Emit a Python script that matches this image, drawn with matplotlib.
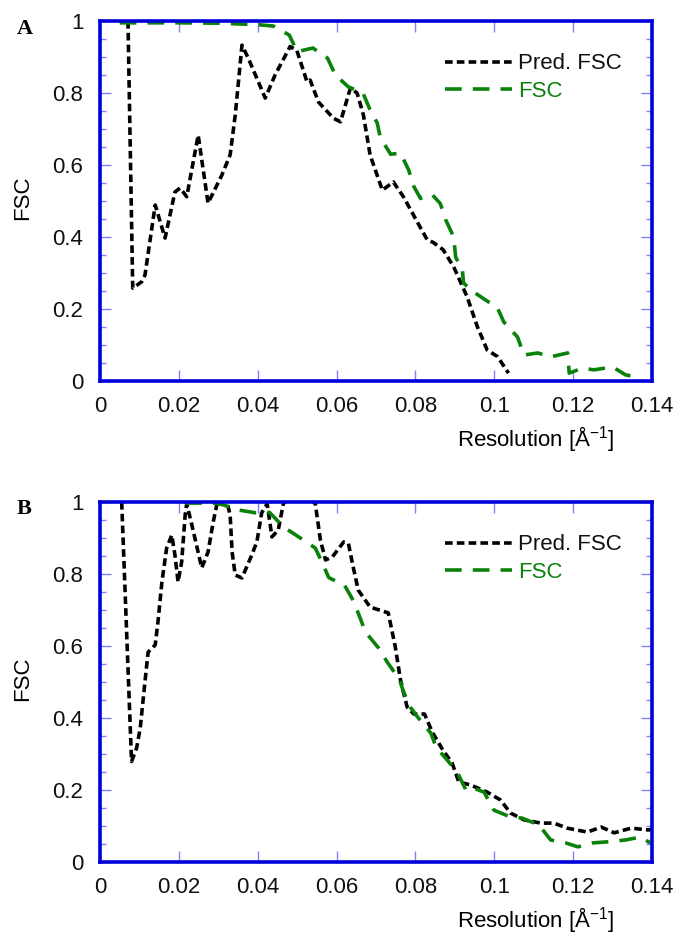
import matplotlib
matplotlib.use("Agg")
import matplotlib.pyplot as plt
from matplotlib.ticker import MultipleLocator, FuncFormatter

plt.rcParams['font.family'] = ['Liberation Sans', 'DejaVu Sans']
plt.rcParams['lines.scale_dashes'] = False

# Panel A: predicted FSC (black) and FSC (green)
a_pred_x = [0.0071, 0.0083, 0.0106, 0.0114, 0.0140, 0.0165, 0.0190, 0.0203, 0.0220, 0.0249,
            0.0274, 0.0309, 0.0330, 0.0343, 0.0360, 0.0376, 0.0419, 0.0444, 0.0482, 0.0499,
            0.0525, 0.0533, 0.0554, 0.0592, 0.0610, 0.0635, 0.0652, 0.0668, 0.0685, 0.0716,
            0.0744, 0.0770, 0.0804, 0.0830, 0.0845, 0.0870, 0.0897, 0.0931, 0.0957, 0.0982,
            0.1008, 0.1036]
a_pred_y = [1.0, 0.258, 0.276, 0.294, 0.489, 0.397, 0.525, 0.536, 0.512, 0.683,
            0.494, 0.572, 0.628, 0.739, 0.933, 0.897, 0.786, 0.850, 0.929, 0.919,
            0.831, 0.836, 0.775, 0.730, 0.720, 0.814, 0.800, 0.739, 0.628, 0.530,
            0.553, 0.511, 0.443, 0.392, 0.385, 0.365, 0.317, 0.234, 0.151, 0.086,
            0.068, 0.022]

a_fsc_x = [0.005, 0.010, 0.020, 0.030, 0.040, 0.044, 0.048, 0.050, 0.054, 0.0577,
           0.0597, 0.063, 0.0667, 0.0685, 0.0703, 0.0711, 0.0737, 0.0762, 0.0783, 0.0794,
           0.0813, 0.0843, 0.0863, 0.0877, 0.0897, 0.0902, 0.0919, 0.0922, 0.0948, 0.0978,
           0.1008, 0.1024, 0.1059, 0.1075, 0.1110, 0.1143, 0.1186, 0.1190, 0.1224, 0.1252,
           0.1300, 0.1333, 0.1363, 0.1370]
a_fsc_y = [0.995, 0.995, 0.995, 0.994, 0.990, 0.986, 0.961, 0.915, 0.925, 0.897,
           0.850, 0.817, 0.800, 0.753, 0.717, 0.676, 0.630, 0.633, 0.586, 0.544,
           0.507, 0.517, 0.493, 0.447, 0.400, 0.344, 0.308, 0.272, 0.247, 0.225,
           0.203, 0.164, 0.122, 0.072, 0.078, 0.067, 0.078, 0.022, 0.036, 0.031,
           0.039, 0.017, 0.011, 0.010]

# Panel B
b_pred_x = [0.0055, 0.0080, 0.0093, 0.0102, 0.0114, 0.0122, 0.0140, 0.0147, 0.0157, 0.0169,
            0.0182, 0.0190, 0.0198, 0.0207, 0.0216, 0.0220, 0.0233, 0.0258, 0.0274, 0.0287,
            0.0297, 0.0315, 0.0330, 0.0335, 0.0343, 0.0360, 0.0385, 0.0398, 0.0410, 0.0424,
            0.0436, 0.0452, 0.0465, 0.0500, 0.0546, 0.0559, 0.0572, 0.0589, 0.0618, 0.0630,
            0.0641, 0.0655, 0.0685, 0.0731, 0.0749, 0.0762, 0.0779, 0.0796, 0.0823, 0.0843,
            0.0870, 0.0893, 0.0910, 0.0940, 0.0982, 0.1016, 0.1041, 0.1075, 0.1118, 0.1151,
            0.1185, 0.1236, 0.1271, 0.1304, 0.1347, 0.1390, 0.1400]
b_pred_y = [1.0, 0.279, 0.317, 0.372, 0.500, 0.583, 0.603, 0.667, 0.778, 0.872,
            0.908, 0.853, 0.778, 0.833, 0.964, 0.995, 0.936, 0.817, 0.861, 0.944,
            0.997, 1.030, 0.964, 0.861, 0.797, 0.789, 0.853, 0.890, 0.970, 0.995,
            0.903, 0.922, 0.995, 1.050, 0.995, 0.894, 0.839, 0.847, 0.889, 0.885,
            0.825, 0.755, 0.708, 0.692, 0.597, 0.506, 0.430, 0.411, 0.411, 0.360,
            0.310, 0.275, 0.222, 0.214, 0.194, 0.172, 0.136, 0.117, 0.108, 0.108,
            0.094, 0.083, 0.097, 0.081, 0.094, 0.089, 0.090]

b_fsc_x = [0.0216, 0.0290, 0.0313, 0.0350, 0.0394, 0.0430, 0.0465, 0.0508, 0.0546, 0.0565,
           0.0580, 0.0620, 0.0643, 0.0660, 0.0673, 0.0706, 0.0728, 0.0759, 0.0769, 0.0787,
           0.0806, 0.0839, 0.0853, 0.0883, 0.0907, 0.0928, 0.0945, 0.0974, 0.0999, 0.1041,
           0.1070, 0.1113, 0.1143, 0.1181, 0.1212, 0.1250, 0.1288, 0.1332, 0.1370, 0.1396]
b_fsc_y = [0.997, 0.997, 0.992, 0.978, 0.970, 0.971, 0.931, 0.900, 0.872, 0.828,
           0.790, 0.769, 0.725, 0.677, 0.639, 0.595, 0.556, 0.508, 0.475, 0.430,
           0.402, 0.358, 0.318, 0.280, 0.247, 0.200, 0.206, 0.194, 0.144, 0.125,
           0.122, 0.103, 0.061, 0.053, 0.042, 0.053, 0.056, 0.061, 0.069, 0.053]

panels = [("A", a_pred_x, a_pred_y, a_fsc_x, a_fsc_y),
          ("B", b_pred_x, b_pred_y, b_fsc_x, b_fsc_y)]

spine_blue = '#0000d8'
tick_blue = '#8080ff'
green = '#0a820a'
fs = 16

fig = plt.figure(figsize=(6.78, 9.35), dpi=100)
ax_boxes = [[0.1475, 0.5925, 0.8142, 0.385],
            [0.1475, 0.0781, 0.8142, 0.385]]

for box, (tag, px, py, fx, fy) in zip(ax_boxes, panels):
    ax = fig.add_axes(box)
    ax.plot(px, py, color='black', lw=2.6, dashes=(5.5, 3.0),
            dash_capstyle='butt', label='Pred. FSC')
    ax.plot(fx, fy, color=green, lw=2.6, dashes=(12, 8),
            dash_capstyle='butt', label='FSC')

    ax.set_xlim(0, 0.14)
    ax.set_ylim(0, 1)
    ax.xaxis.set_major_locator(MultipleLocator(0.02))
    ax.yaxis.set_major_locator(MultipleLocator(0.2))
    ax.yaxis.set_minor_locator(MultipleLocator(0.05))
    ax.xaxis.set_major_formatter(FuncFormatter(lambda v, p: '%g' % round(v, 4)))
    ax.yaxis.set_major_formatter(FuncFormatter(lambda v, p: '%g' % round(v, 4)))

    for s in ax.spines.values():
        s.set_color(spine_blue)
        s.set_linewidth(2.6)
        s.set_zorder(5)
    ax.tick_params(which='both', direction='in', top=True, right=True,
                   color=tick_blue, labelsize=fs, labelcolor='#111111')
    ax.tick_params(which='major', length=8, width=1.0)
    ax.tick_params(which='minor', length=4.5, width=1.0)
    ax.tick_params(axis='x', which='major', pad=11)
    ax.tick_params(axis='y', which='major', pad=12)

    ax.set_ylabel('FSC', fontsize=fs)
    ax.yaxis.set_label_coords(-0.141, 0.51)
    ax.yaxis.label.set_va('center')
    ax.set_xlabel('Resolution [Å$^{\\mathregular{-1}}$]', fontsize=fs)
    ax.xaxis.set_label_coords(0.79, -0.162)
    ax.xaxis.label.set_va('center')

    leg = ax.legend(loc='upper left', bbox_to_anchor=(0.625, 0.91), frameon=False,
                    fontsize=fs, borderpad=0, borderaxespad=0, handlelength=3.0,
                    handletextpad=0.3, labelspacing=0.3)
    leg.get_texts()[1].set_color(green)
    leg.get_texts()[0].set_color('#111111')

    fig.text(0.036, box[1] + box[3] - 0.008, tag, fontsize=16, fontweight='bold',
             family='Liberation Serif', ha='center', va='center')

fig.savefig('out.png', dpi=100)
